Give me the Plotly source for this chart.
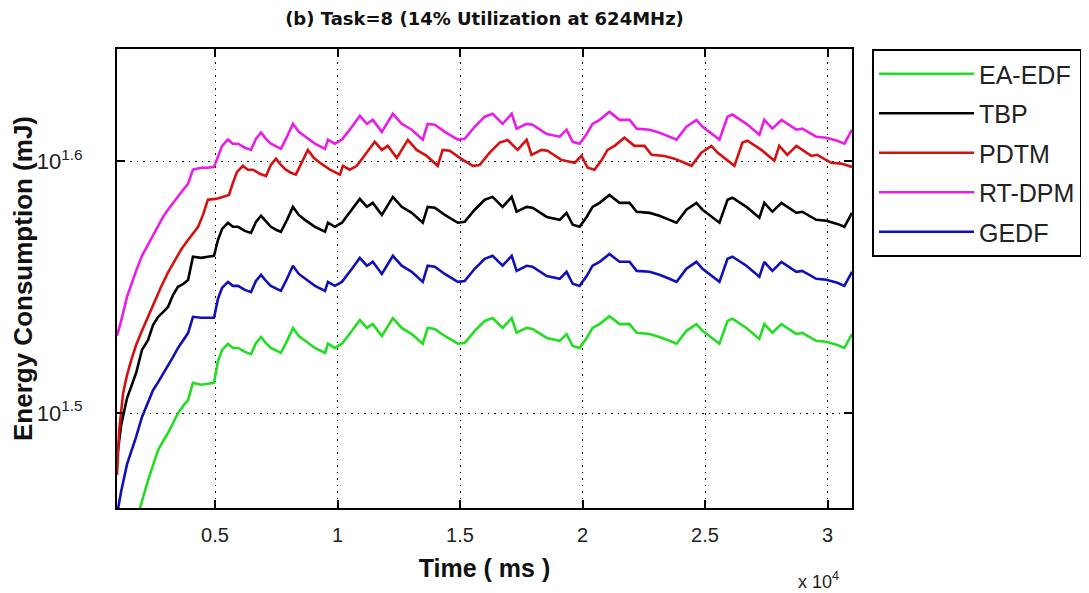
import plotly.graph_objects as go

# ---------------- data (time in ms, energy in mJ) ----------------
time_ms = [1000, 1170, 1410, 1660, 1780, 2020, 2270, 2470, 2680, 2880, 3080, 3290, 3490, 3700,
           3900, 4100, 4430, 4710, 4960, 5120, 5290, 5530, 5730, 5940, 6220, 6470, 6670, 6880,
           7080, 7280, 7490, 7690, 7940, 8180, 8420, 8670, 9080, 9490, 9610, 9890, 10180, 10590,
           10910, 11200, 11440, 11810, 12260, 12620, 13030, 13480, 13680, 13970, 14380, 14910,
           15190, 15600, 16010, 16330, 16740, 17110, 17310, 17720, 17960, 18540, 19070, 19350,
           19600, 19880, 20170, 20410, 20700, 21100, 21510, 21920, 22210, 22740, 23140, 23550,
           23840, 24240, 24650, 24900, 25590, 25920, 26120, 26690, 27220, 27420, 27750, 28120,
           28730, 28970, 29540, 29950, 30400, 30690, 31000]

ea_edf = [26.90, 27.34, 27.85, 28.39, 28.65, 29.21, 29.74, 30.15, 30.57, 30.82, 31.05, 31.34,
          31.62, 31.83, 32.00, 32.51, 32.45, 32.48, 32.51,
          33.16, 33.50, 33.69, 33.56, 33.56, 33.44, 33.37, 33.71, 33.90, 33.71, 33.56, 33.47,
          33.41, 33.78, 34.18, 33.93, 33.78, 33.56, 33.41, 33.69, 33.56, 33.69, 34.09, 34.43,
          34.18, 34.30, 33.93, 34.49, 34.18, 33.99, 33.69, 34.18, 34.15, 33.93, 33.69, 33.71,
          34.09, 34.40, 34.49, 34.18, 34.49, 34.03, 34.18, 34.15, 33.87, 33.78, 33.99, 33.62,
          33.56, 33.87, 34.18, 34.30, 34.55, 34.30, 34.30, 34.03, 33.99, 33.90, 33.78, 33.69,
          34.09, 34.30, 34.09, 33.69, 34.40, 34.47, 34.18, 33.84, 34.30, 34.03, 34.30, 33.99,
          34.03, 33.78, 33.75, 33.65, 33.56, 33.99]

tbp = [30.35, 31.28, 32.06, 32.59, 32.80, 33.50, 33.81, 34.27, 34.53, 34.68, 34.84, 35.23,
       35.49, 35.58, 35.71, 36.48, 36.44, 36.48, 36.51,
       37.04, 37.42, 37.63, 37.49, 37.49, 37.35, 37.28, 37.66, 37.87, 37.66, 37.49, 37.39,
       37.32, 37.73, 38.18, 37.90, 37.73, 37.49, 37.32, 37.63, 37.49, 37.63, 38.08, 38.46,
       38.18, 38.32, 37.90, 38.53, 38.18, 37.97, 37.63, 38.18, 38.15, 37.90, 37.63, 37.66,
       38.08, 38.43, 38.53, 38.18, 38.53, 38.01, 38.18, 38.15, 37.83, 37.73, 37.97, 37.56,
       37.49, 37.83, 38.18, 38.32, 38.60, 38.32, 38.32, 38.01, 37.97, 37.87, 37.73, 37.63,
       38.08, 38.32, 38.08, 37.63, 38.43, 38.50, 38.18, 37.80, 38.32, 38.01, 38.32, 37.97,
       38.01, 37.73, 37.70, 37.59, 37.49, 37.97]

rt_dpm = [33.93, 34.40, 35.17, 35.75, 36.01, 36.51, 36.88, 37.18, 37.52, 37.83, 38.08, 38.32,
          38.57, 38.78, 38.99, 39.50, 39.57, 39.57, 39.60,
          39.96, 40.37, 40.60, 40.45, 40.45, 40.30, 40.22, 40.63, 40.86, 40.63, 40.45, 40.34,
          40.26, 40.71, 41.19, 40.89, 40.71, 40.45, 40.26, 40.60, 40.45, 40.60, 41.08, 41.49,
          41.19, 41.34, 40.89, 41.57, 41.19, 40.97, 40.60, 41.19, 41.16, 40.89, 40.60, 40.63,
          41.08, 41.46, 41.57, 41.19, 41.57, 41.01, 41.19, 41.16, 40.81, 40.71, 40.97, 40.52,
          40.45, 40.81, 41.19, 41.34, 41.65, 41.34, 41.34, 41.01, 40.97, 40.86, 40.71, 40.60,
          41.08, 41.34, 41.08, 40.60, 41.46, 41.54, 41.19, 40.78, 41.34, 41.01, 41.34, 40.97,
          41.01, 40.71, 40.67, 40.56, 40.45, 40.97]

gedf = [28.81, 29.44, 30.18, 30.65, 30.94, 31.51, 31.97, 32.29, 32.53, 32.77, 33.04, 33.29,
        33.56, 33.81, 34.02, 34.53, 34.50, 34.50, 34.50,
        35.10, 35.46, 35.65, 35.52, 35.52, 35.39, 35.32, 35.68, 35.88, 35.68, 35.52, 35.43,
        35.36, 35.75, 36.18, 35.91, 35.75, 35.52, 35.36, 35.65, 35.52, 35.65, 36.08, 36.44,
        36.18, 36.31, 35.91, 36.51, 36.18, 35.98, 35.65, 36.18, 36.15, 35.91, 35.65, 35.68,
        36.08, 36.41, 36.51, 36.18, 36.51, 36.01, 36.18, 36.15, 35.84, 35.75, 35.98, 35.59,
        35.52, 35.84, 36.18, 36.31, 36.57, 36.31, 36.31, 36.01, 35.98, 35.88, 35.75, 35.65,
        36.08, 36.31, 36.08, 35.65, 36.41, 36.48, 36.18, 35.82, 36.31, 36.01, 36.31, 35.98,
        36.01, 35.75, 35.72, 35.62, 35.52, 35.98]

time_ms_pdtm = [1000, 1090, 1250, 1410, 1580, 1780, 1980, 2190, 2390, 2590, 2800, 3080, 3370,
                3610, 3900, 4100, 4310, 4510, 4710, 5040, 5330, 5570,
                5730, 5900, 6140, 6340, 6550, 6830, 7080, 7280, 7490, 7690, 7890, 8100, 8300,
                8550, 8790, 9030, 9280, 9690, 10100, 10220, 10500, 10790, 11200, 11520, 11810,
                12050, 12420, 12870, 13230, 13640, 14090, 14290, 14580, 14990, 15520, 15800,
                16210, 16620, 16940, 17350, 17720, 17920, 18330, 18570, 19150, 19680, 19960,
                20210, 20490, 20780, 21020, 21310, 21710, 22120, 22530, 22820, 23350, 23750,
                24160, 24450, 24850, 25260, 25510, 26200, 26530, 26730, 27300, 27830, 28030,
                28360, 28730, 29340, 29580, 30150, 30560, 31000]

pdtm = [29.88, 31.14, 32.21, 32.74, 33.19, 33.65, 34.02, 34.40, 34.75, 35.13, 35.49, 35.95,
        36.37, 36.71, 37.04, 37.28, 37.49, 37.90, 38.43, 38.46, 38.53, 38.60,
        39.02, 39.42, 39.64, 39.50, 39.50, 39.35, 39.27, 39.67, 39.90, 39.67, 39.50, 39.39,
        39.32, 39.75, 40.22, 39.93, 39.75, 39.50, 39.32, 39.64, 39.50, 39.64, 40.12, 40.52,
        40.22, 40.37, 39.93, 40.59, 40.22, 40.00, 39.64, 40.22, 40.19, 39.93, 39.64, 39.67,
        40.12, 40.49, 40.59, 40.22, 40.59, 40.04, 40.22, 40.19, 39.85, 39.75, 40.00, 39.57,
        39.50, 39.85, 40.22, 40.37, 40.67, 40.37, 40.37, 40.04, 40.00, 39.90, 39.75, 39.64,
        40.12, 40.37, 40.12, 39.64, 40.49, 40.56, 40.22, 39.82, 40.37, 40.04, 40.37, 40.00,
        40.04, 39.75, 39.72, 39.60]

x_tick_vals = [5000, 10000, 15000, 20000, 25000, 30000]
x_tick_text = ["0.5", "1", "1.5", "2", "2.5", "3"]
y_tick_vals = [10 ** 1.5, 10 ** 1.6]
y_tick_text = ["10<sup>1.5</sup>", "10<sup>1.6</sup>"]

series = [
    ("EA-EDF", time_ms, ea_edf, "#22dd22"),
    ("TBP", time_ms, tbp, "#000000"),
    ("PDTM", time_ms_pdtm, pdtm, "#d41111"),
    ("RT-DPM", time_ms, rt_dpm, "#e81ee8"),
    ("GEDF", time_ms, gedf, "#1010b4"),
]

fig = go.Figure()
for name, xs, ys, col in series:
    fig.add_trace(go.Scatter(x=xs, y=ys, mode="lines", name=name, legendgroup=name,
                             line=dict(color=col, width=2.6)))

# the page body adds an 8px offset; sizes below compensate so the plot box lands
# at x 117..852, y 49..508 in the 1089x593 window
W, H = 1081, 585
L, T, R, B = 109, 41, 237, 85
plot_w = W - L - R
plot_h = H - T - B

axis_font = dict(family="Liberation Sans, Arial, sans-serif", size=20, color="#222222")
grid_dash = "1.5px,5px"

fig.update_layout(
    width=W, height=H,
    margin=dict(l=L, r=R, t=T, b=B, autoexpand=False),
    paper_bgcolor="white", plot_bgcolor="white",
    title=dict(text="<b>(b) Task=8 (14% Utilization at 624MHz)</b>",
               font=dict(family="DejaVu Sans, sans-serif", size=18, color="#111111"),
               x=0.5, xref="paper", xanchor="center", y=1 - 11 / H, yref="container",
               yanchor="middle"),
    showlegend=True,
    legend=dict(x=(872 - 8 - L) / plot_w, y=1.0, xanchor="left", yanchor="top",
                bordercolor="#000000", borderwidth=2, bgcolor="white",
                font=dict(family="Liberation Sans, Arial, sans-serif", size=25, color="#222222"),
                itemwidth=95, tracegroupgap=4, traceorder="grouped"),
    xaxis=dict(range=[1000, 31000], tickvals=x_tick_vals, ticktext=x_tick_text,
               automargin=False,
               showgrid=True, gridcolor="#000000", griddash=grid_dash, gridwidth=1,
               zeroline=False, showline=True, linecolor="#000000", linewidth=2,
               mirror="ticks", ticks="inside", ticklen=8, tickwidth=1.5, tickcolor="#000000",
               tickfont=axis_font, ticklabelstandoff=8,
               title=dict(text="<b>Time ( ms )</b>", standoff=14,
                          font=dict(family="Liberation Sans, Arial, sans-serif", size=25,
                                    color="#111111"))),
    yaxis=dict(type="log", range=[1.4623, 1.6445], tickvals=y_tick_vals, ticktext=y_tick_text,
               automargin=False,
               showgrid=True, gridcolor="#000000", griddash=grid_dash, gridwidth=1,
               zeroline=False, showline=True, linecolor="#000000", linewidth=2,
               mirror="ticks", ticks="inside", ticklen=8, tickwidth=1.5, tickcolor="#000000",
               tickfont=dict(family="Liberation Sans, Arial, sans-serif", size=22,
                             color="#222222"),
               ticklabelstandoff=28,
               title=dict(text="<b>Energy Consumption (mJ)</b>", standoff=2,
                          font=dict(family="Liberation Sans, Arial, sans-serif", size=26,
                                    color="#111111"))),
)

fig.add_annotation(text="x 10<sup>4</sup>", xref="paper", yref="paper",
                   x=(818 - 8 - L) / plot_w, y=-(580 - 508) / plot_h,
                   xanchor="center", yanchor="middle", showarrow=False,
                   font=dict(family="Liberation Sans, Arial, sans-serif", size=18, color="#222222"))

fig.write_html("out.html")
